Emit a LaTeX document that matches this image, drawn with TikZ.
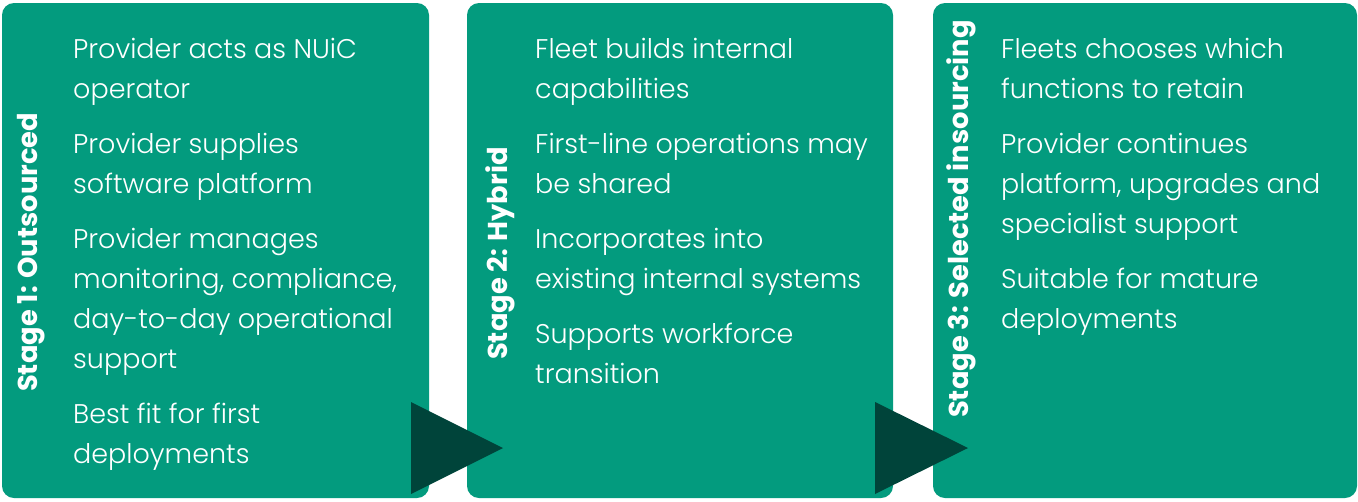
\documentclass[tikz,border=0pt]{standalone}
\usepackage{fontspec}
\setmainfont{Poppins}[UprightFont=* Light, BoldFont=* Bold]
\definecolor{boxgreen}{HTML}{039B7E}
\definecolor{darkgreen}{HTML}{00443A}
\begin{document}
\begin{tikzpicture}[x=1pt,y=-1pt,
  stagebox/.style={fill=boxgreen,draw=none,rounded corners=12pt},
  arrowtri/.style={fill=darkgreen,draw=none},
  body/.style={anchor=base west,inner sep=0pt,text=white,font=\fontsize{27}{30}\selectfont},
  title/.style={anchor=base west,inner sep=0pt,text=white,rotate=90,font=\fontsize{27.3}{30}\selectfont\bfseries}]
\useasboundingbox (0,0) rectangle (1358,501);
\path[stagebox] (2,3) rectangle (429,498);
\path[stagebox] (467,3) rectangle (893,498);
\path[stagebox] (933,3) rectangle (1357,498);
% Stage 1
\node[title] (t1) at (37,392) {Stage 1: Outsourced};
\node[body] (a1) at (73,58) {Provider acts as NUiC};
\node[body] (a2) at (73,98) {operator};
\node[body] (a3) at (73,153) {Provider supplies};
\node[body] (a4) at (73,193) {software platform};
\node[body] (a5) at (73,248) {Provider manages};
\node[body] (a6) at (73,288) {monitoring, compliance,};
\node[body] (a7) at (73,328) {day-to-day operational};
\node[body] (a8) at (73,368) {support};
\node[body] (a9) at (73,423) {Best fit for first};
\node[body] (a10) at (73,463) {deployments};
% Stage 2
\node[title] (t2) at (507,360) {Stage 2: Hybrid};
\node[body] (b1) at (535,58) {Fleet builds internal};
\node[body] (b2) at (535,98) {capabilities};
\node[body] (b3) at (535,153) {First-line operations may};
\node[body] (b4) at (535,193) {be shared};
\node[body] (b5) at (535,248) {Incorporates into};
\node[body] (b6) at (535,288) {existing internal systems};
\node[body] (b7) at (535,343) {Supports workforce};
\node[body] (b8) at (535,383) {transition};
% Stage 3
\node[title] (t3) at (968,418) {Stage 3: Selected insourcing};
\node[body] (c1) at (1001,58) {Fleets chooses which};
\node[body] (c2) at (1001,98) {functions to retain};
\node[body] (c3) at (1001,153) {Provider continues};
\node[body] (c4) at (1001,193) {platform, upgrades and};
\node[body] (c5) at (1001,233) {specialist support};
\node[body] (c6) at (1001,288) {Suitable for mature};
\node[body] (c7) at (1001,328) {deployments};
% arrows
\path[arrowtri] (411,402) -- (503,448) -- (411,494) -- cycle;
\path[arrowtri] (875,402) -- (968,448) -- (875,494) -- cycle;
\end{tikzpicture}
\end{document}
